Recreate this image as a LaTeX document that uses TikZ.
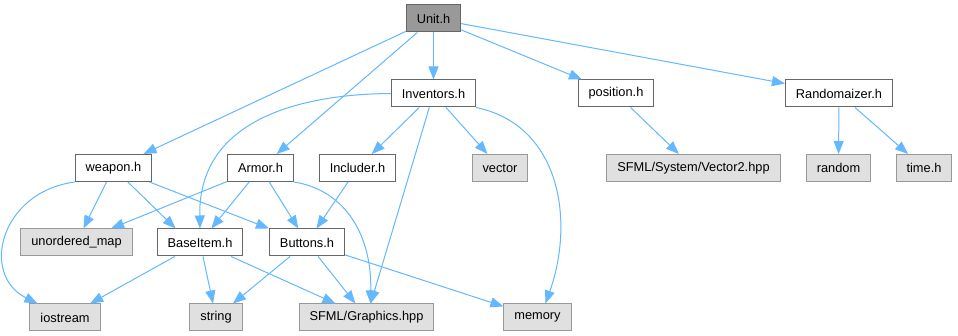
\documentclass[tikz,border=0pt]{standalone}
\usepackage{fontspec}
\setmainfont{Liberation Sans}
\usepackage{tikz}
\usetikzlibrary{arrows.meta,calc}
\definecolor{edgeblue}{HTML}{63B8FF}
\definecolor{rootfill}{HTML}{999999}
\definecolor{sysfill}{HTML}{E0E0E0}
\definecolor{boxline}{HTML}{666666}
\definecolor{sysline}{HTML}{999999}
\tikzset{
  filebox/.style={
    rectangle,
    draw=boxline,
    line width=1pt,
    fill=white,
    minimum height=27pt,
    inner xsep=10.5pt,
    inner ysep=0pt,
    font=\fontsize{12.8}{15}\selectfont
  },
  rootbox/.style={
    filebox,
    fill=rootfill
  },
  sysbox/.style={
    filebox,
    draw=sysline,
    fill=sysfill
  },
  dep/.style={-{Triangle[length=13pt,width=10pt]}, line width=1pt, edgeblue}
}
\begin{document}
\begin{tikzpicture}[x=1pt,y=-1pt]
\useasboundingbox[fill=white] (0,0) rectangle (958,336);
% rank 0
\node[rootbox] (unit) at (433.5,18.5) {Unit.h};
% rank 1
\node[filebox] (inv) at (433.5,93.5) {Inventors.h};
\node[filebox] (pos) at (616,93.5) {position.h};
\node[filebox] (rnd) at (839,93.5) {Randomaizer.h};
% rank 2
\node[filebox] (weapon) at (113.5,168) {weapon.h};
\node[filebox] (armor) at (260.5,168) {Armor.h};
\node[filebox] (incl) at (357.5,168) {Includer.h};
\node[sysbox] (vector) at (500,168) {vector};
\node[sysbox] (vec2) at (693.5,168) {SFML/System/Vector2.hpp};
\node[sysbox] (random) at (838.5,168) {random};
\node[sysbox] (timeh) at (924,168) {time.h};
% rank 3
\node[sysbox] (umap) at (76.5,242.5) {unordered\_map};
\node[filebox] (base) at (200,242.5) {BaseItem.h};
\node[filebox] (buttons) at (307,242.5) {Buttons.h};
% rank 4
\node[sysbox] (ios) at (65,317.5) {iostream};
\node[sysbox] (string) at (216,317.5) {string};
\node[sysbox] (gfx) at (366.5,317.5) {SFML/Graphics.hpp};
\node[sysbox] (memory) at (537.5,317.5) {memory};

% Unit.h
\draw[dep] (unit) -- (weapon);
\draw[dep] (unit) -- (armor);
\draw[dep] (unit) -- (inv);
\draw[dep] (unit) -- (pos);
\draw[dep] (unit) -- (rnd);
% Inventors.h
\draw[dep] (inv.west) .. controls (310,94) and (198,115) .. (base.north);
\draw[dep] (inv) -- (incl);
\draw[dep] (inv) -- (gfx);
\draw[dep] (inv) -- (vector);
\draw[dep] (inv.south east) .. controls (560,125) and (575,220) .. ($(memory.north)+(8,0)$);
% position.h, Randomaizer.h
\draw[dep] (pos) -- (vec2);
\draw[dep] (rnd) -- (random);
\draw[dep] (rnd) -- (timeh);
% weapon.h
\draw[dep] (weapon.south west) .. controls (0,192) and (-20,275) .. ($(ios.north west)+(8,0)$);
\draw[dep] (weapon) -- (umap);
\draw[dep] (weapon) -- ($(base.north west)+(19,0)$);
\draw[dep] (weapon) -- (buttons.north west);
% Armor.h
\draw[dep] (armor) -- (umap);
\draw[dep] (armor) -- (base);
\draw[dep] (armor) -- (buttons);
\draw[dep] (armor.south east) .. controls (345,190) and (372,235) .. ($(gfx.north)+(4,0)$);
% Includer.h
\draw[dep] (incl) -- (buttons);
% BaseItem.h
\draw[dep] (base) -- (ios);
\draw[dep] (base) -- (string);
\draw[dep] (base) -- (gfx);
% Buttons.h
\draw[dep] (buttons) -- (string);
\draw[dep] (buttons) -- (gfx);
\draw[dep] (buttons) -- (memory);
\end{tikzpicture}
\end{document}
